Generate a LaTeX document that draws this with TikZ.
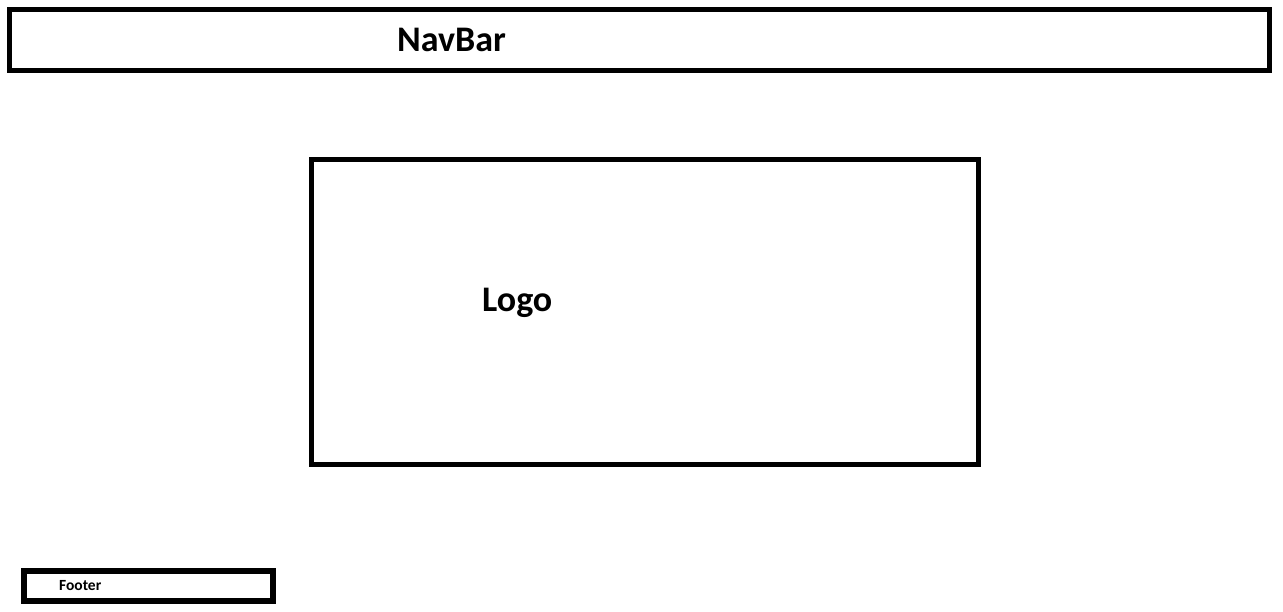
\documentclass[tikz,border=0pt]{standalone}
\usepackage{fontspec}
\setmainfont{Carlito}
\usetikzlibrary{positioning}

\tikzset{
    frame/.style={draw=black, line width=5.5pt, inner sep=0pt},
    title/.style={font=\bfseries\fontsize{36}{40}\selectfont, inner sep=0pt, anchor=base west}
}

\begin{document}
\begin{tikzpicture}[x=1pt, y=-1pt]
    \useasboundingbox (0,0) rectangle (1283,611);

    % NavBar
    \node[frame, minimum width=1260pt, minimum height=61pt] (navbar) at (639.5,40) {};
    \node[title] (navbarlabel) at (397,51) {NavBar};

    % Logo
    \node[frame, minimum width=667pt, minimum height=305pt] (logo) at (645,312) {};
    \node[title] (logolabel) at (482,311) {Logo};

    % Footer
    \node[frame, minimum width=249pt, minimum height=30pt] (footer) at (148.5,586) {};
    \node[font=\bfseries\fontsize{15.5}{18}\selectfont, inner sep=0pt, anchor=base west] (footerlabel) at (59,590) {Footer};
\end{tikzpicture}
\end{document}
